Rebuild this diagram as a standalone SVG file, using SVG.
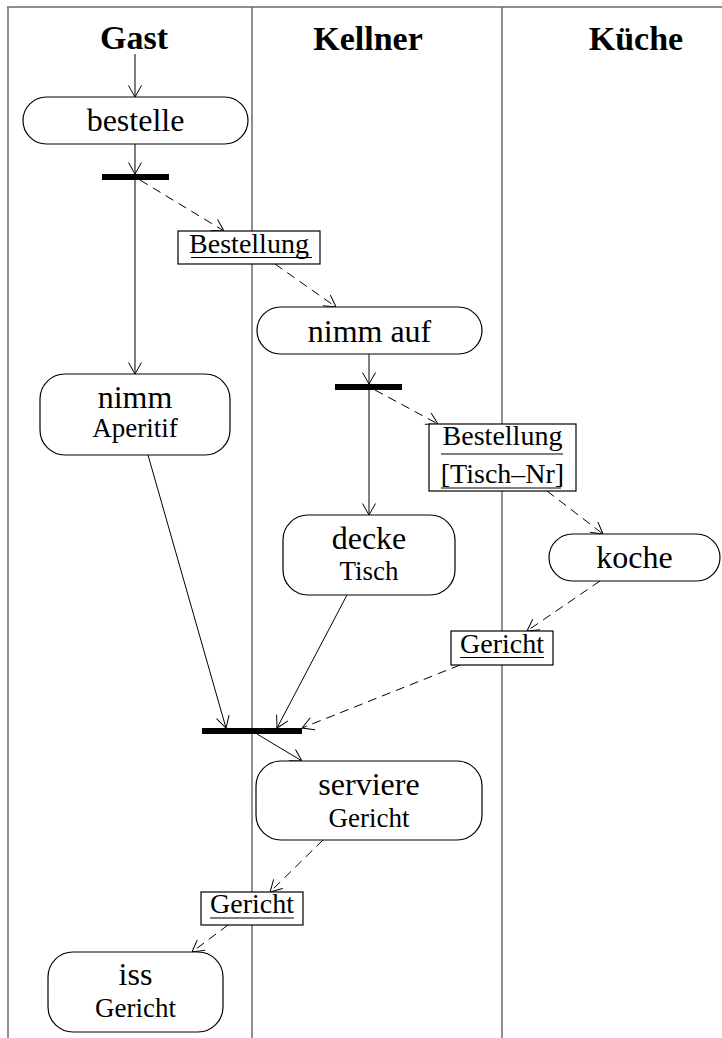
<svg xmlns="http://www.w3.org/2000/svg" width="722" height="1038" viewBox="0 0 722 1038">
<defs>
<marker id="arr" markerUnits="userSpaceOnUse" viewBox="0 0 12 14" refX="12" refY="7" markerWidth="12" markerHeight="14" orient="auto">
<path d="M0.5,0.5 L12,7 L0.5,13.5" fill="none" stroke="#000" stroke-width="1" stroke-dasharray="none"/>
</marker>
</defs>
<style>
.lane{stroke:#6a6a6a;stroke-width:1.5;fill:none}
.hdr{font-family:"Liberation Serif",serif;font-weight:bold;font-size:34px;text-anchor:middle;fill:#000}
.act{fill:#fff;stroke:#000;stroke-width:1.2}
.obj{fill:#fff;stroke:#000;stroke-width:1.2}
.t1{font-family:"Liberation Serif",serif;font-size:32px;text-anchor:middle;fill:#000}
.t2{font-family:"Liberation Serif",serif;font-size:27px;text-anchor:middle;fill:#000}
.to{font-family:"Liberation Serif",serif;font-size:28px;text-anchor:middle;fill:#000}
.ul{stroke:#000;stroke-width:1.2}
.ul2{stroke:#555;stroke-width:1.6}
.bar{fill:#000}
.c{stroke:#000;stroke-width:1;fill:none;marker-end:url(#arr)}
.d{stroke:#000;stroke-width:1;fill:none;stroke-dasharray:9 6;marker-end:url(#arr)}
</style>
<g id="swimlanes">
<line class="lane" x1="7" y1="7" x2="722" y2="7"/>
<line class="lane" x1="8" y1="7" x2="8" y2="1038"/>
<line class="lane" x1="252" y1="7" x2="252" y2="1038"/>
<line class="lane" x1="502" y1="7" x2="502" y2="1038"/>
<text class="hdr" x="134" y="49">Gast</text>
<text class="hdr" x="368" y="50">Kellner</text>
<text class="hdr" x="636" y="50">Küche</text>
</g>
<g id="connectors">
<line class="c" x1="135" y1="54" x2="135" y2="97"/>
<line class="c" x1="135" y1="144" x2="135" y2="174"/>
<line class="c" x1="135" y1="180" x2="135" y2="374"/>
<line class="d" x1="140" y1="180" x2="224" y2="231"/>
<line class="d" x1="275" y1="264" x2="336" y2="307"/>
<line class="c" x1="369" y1="354" x2="369" y2="384"/>
<line class="c" x1="369" y1="390" x2="369" y2="515"/>
<line class="d" x1="375" y1="390" x2="438" y2="424"/>
<line class="d" x1="547" y1="491" x2="603" y2="534"/>
<line class="d" x1="600" y1="581" x2="527" y2="631"/>
<line class="d" x1="460" y1="665" x2="302" y2="728"/>
<line class="c" x1="148" y1="455" x2="226" y2="728"/>
<line class="c" x1="347" y1="595" x2="277" y2="728"/>
<line class="c" x1="257" y1="734" x2="302" y2="761"/>
<line class="d" x1="323" y1="840" x2="270" y2="892"/>
<line class="d" x1="228" y1="925" x2="192" y2="952"/>
</g>
<g id="bestelle">
<rect class="act" x="23" y="97" width="225" height="47" rx="23.5"/>
<text class="t1" x="135.5" y="131">bestelle</text>
</g>
<g id="fork1"><rect class="bar" x="102" y="174" width="67" height="6"/></g>
<g id="obj-bestellung">
<rect class="obj" x="178" y="231" width="142" height="33"/>
<text class="to" x="249" y="253">Bestellung</text>
<line class="ul" x1="191" y1="257.5" x2="312" y2="257.5"/>
</g>
<g id="nimm-aperitif">
<rect class="act" x="40" y="374" width="190" height="81" rx="25"/>
<text class="t1" x="135" y="408">nimm</text>
<text class="t2" x="135" y="437">Aperitif</text>
</g>
<g id="nimm-auf">
<rect class="act" x="257" y="307" width="225" height="47" rx="23.5"/>
<text class="t1" x="369.5" y="342">nimm auf</text>
</g>
<g id="fork2"><rect class="bar" x="335" y="384" width="67" height="6"/></g>
<g id="obj-bestellung-tisch">
<rect class="obj" x="429" y="424" width="147" height="67"/>
<text class="to" x="502.5" y="445">Bestellung</text>
<line class="ul2" x1="441" y1="454" x2="563" y2="454"/>
<text class="to" x="502.5" y="483">[Tisch–Nr]</text>
<line class="ul2" x1="441" y1="488" x2="561" y2="488"/>
</g>
<g id="decke-tisch">
<rect class="act" x="283" y="515" width="172" height="80" rx="25"/>
<text class="t1" x="369" y="549">decke</text>
<text class="t2" x="369" y="580">Tisch</text>
</g>
<g id="koche">
<rect class="act" x="549" y="534" width="171" height="47" rx="23.5"/>
<text class="t1" x="634.5" y="568">koche</text>
</g>
<g id="obj-gericht1">
<rect class="obj" x="451" y="631" width="102" height="34"/>
<text class="to" x="502" y="653">Gericht</text>
<line class="ul" x1="460" y1="657.5" x2="544" y2="657.5"/>
</g>
<g id="join"><rect class="bar" x="202" y="728" width="100" height="6"/></g>
<g id="serviere-gericht">
<rect class="act" x="256" y="761" width="226" height="79" rx="25"/>
<text class="t1" x="369" y="795">serviere</text>
<text class="t2" x="369" y="827">Gericht</text>
</g>
<g id="obj-gericht2">
<rect class="obj" x="201" y="892" width="102" height="33"/>
<text class="to" x="252" y="913">Gericht</text>
<line class="ul" x1="210" y1="918" x2="294" y2="918"/>
</g>
<g id="iss-gericht">
<rect class="act" x="48" y="952" width="175" height="80" rx="25"/>
<text class="t1" x="135.5" y="985">iss</text>
<text class="t2" x="135.5" y="1017">Gericht</text>
</g>
</svg>
